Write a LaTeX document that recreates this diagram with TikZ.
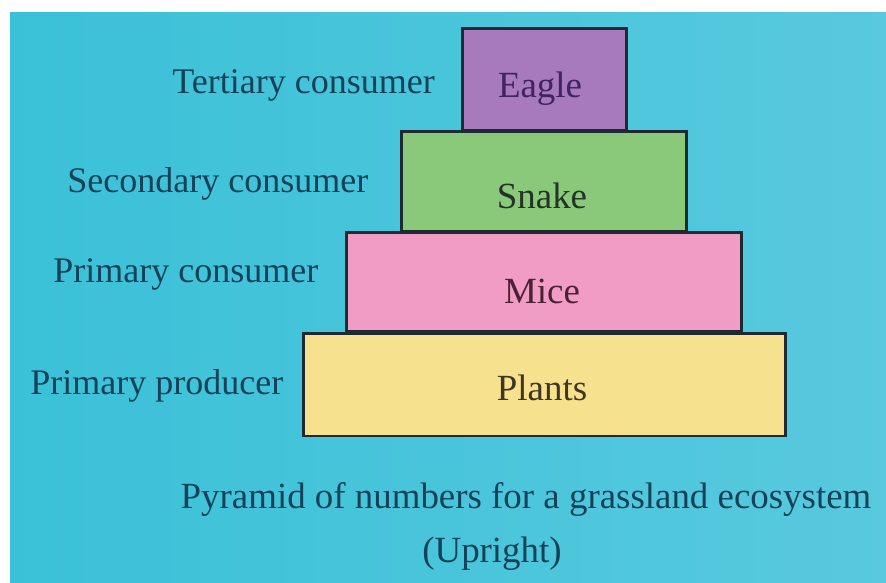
\documentclass[tikz,border=0pt]{standalone}
\usepackage{fontspec}
\setmainfont{Liberation Serif}
\usepackage{tikz}

\definecolor{skyleft}{RGB}{58,193,216}
\definecolor{skyright}{RGB}{88,201,222}
\definecolor{labelink}{RGB}{20,66,88}
\definecolor{edgeink}{RGB}{30,42,50}
\definecolor{eaglefill}{RGB}{166,122,188}
\definecolor{snakefill}{RGB}{138,201,122}
\definecolor{micefill}{RGB}{240,156,196}
\definecolor{plantsfill}{RGB}{246,226,142}

\begin{document}
\begin{tikzpicture}[x=0.02cm,y=-0.02cm,
  stage/.style={draw=edgeink,line width=1.7pt,inner sep=0pt},
  stagetext/.style={anchor=base,inner sep=0pt,font=\fontsize{21}{24}\selectfont},
  levelname/.style={anchor=base west,inner sep=0pt,text=labelink,font=\fontsize{20.5}{24}\selectfont},
  caption/.style={anchor=base,inner sep=0pt,text=labelink,font=\fontsize{21}{25}\selectfont}]
\useasboundingbox (0,0) rectangle (886,582);
\fill[white] (0,0) rectangle (886,582);
\shade[left color=skyleft,right color=skyright] (10,12) rectangle (886,582);
\node[stage,fill=eaglefill,minimum width=3.3cm,minimum height=2.04cm] (eagle) at (544.5,79) {};
\node[stage,fill=snakefill,minimum width=5.72cm,minimum height=2.0cm] (snake) at (544,181.5) {};
\node[stage,fill=micefill,minimum width=7.92cm,minimum height=1.98cm] (mice) at (544,281.5) {};
\node[stage,fill=plantsfill,minimum width=9.66cm,minimum height=2.06cm] (plants) at (544.5,384.5) {};
\node[stagetext,text={rgb,255:red,66;green,34;blue,100}] (eagletxt) at (540,97) {Eagle};
\node[stagetext,text={rgb,255:red,36;green,50;blue,40}] (snaketxt) at (542,208) {Snake};
\node[stagetext,text={rgb,255:red,74;green,34;blue,54}] (micetxt) at (542,303) {Mice};
\node[stagetext,text={rgb,255:red,62;green,54;blue,34}] (plantstxt) at (542,400) {Plants};
\node[levelname] (tertiary) at (172,93) {Tertiary consumer};
\node[levelname] (secondary) at (67,192) {Secondary consumer};
\node[levelname] (primary) at (53,282) {Primary consumer};
\node[levelname] (producer) at (30,394) {Primary producer};
\node[caption] (title) at (526,508) {Pyramid of numbers for a grassland ecosystem};
\node[caption] (upright) at (492,562) {(Upright)};
\end{tikzpicture}
\end{document}
